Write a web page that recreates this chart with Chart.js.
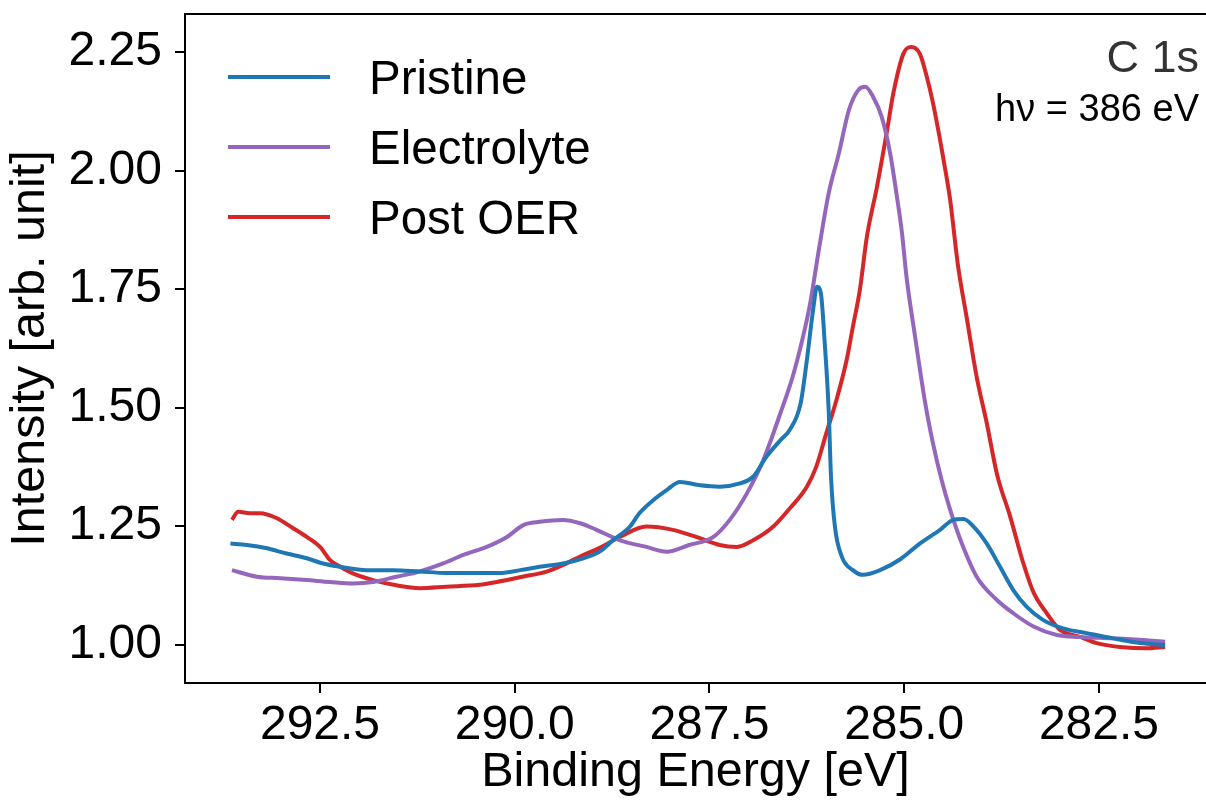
<!DOCTYPE html>
<html><head><meta charset="utf-8">
<script src="https://cdn.jsdelivr.net/npm/chart.js@4.4.1/dist/chart.umd.min.js"></script>
<style>html,body{margin:0;padding:0;background:#fff;overflow:hidden}</style>
</head><body>
<canvas id="c" width="1206" height="807"></canvas>
<script>
// ---- data ----
const seriesNames = ['Pristine', 'Electrolyte', 'Post OER'];

const pristineE = [293.65,293.44,293.18,292.93,292.67,292.46,292.24,291.90,291.56,291.22,290.88,290.53,290.19,289.93,289.68,289.38,289.12,288.91,288.74,288.52,288.40,288.22,288.05,287.88,287.62,287.37,287.11,286.94,286.77,286.59,286.47,286.33,286.25,286.17,286.12,286.07,286.02,285.97,285.94,285.89,285.80,285.66,285.53,285.31,285.05,284.80,284.54,284.37,284.24,284.11,283.94,283.77,283.60,283.43,283.22,282.96,282.66,282.32,281.97,281.65];
const pristineI = [1.213,1.210,1.203,1.192,1.182,1.171,1.164,1.157,1.157,1.154,1.151,1.151,1.151,1.157,1.164,1.171,1.182,1.196,1.220,1.249,1.277,1.305,1.326,1.343,1.336,1.333,1.340,1.354,1.396,1.431,1.453,1.509,1.600,1.706,1.755,1.741,1.635,1.495,1.354,1.249,1.185,1.157,1.147,1.157,1.180,1.213,1.242,1.263,1.265,1.249,1.213,1.164,1.115,1.080,1.052,1.034,1.024,1.013,1.003,0.999];

const electrolyteE = [293.63,293.31,293.01,292.67,292.37,292.07,291.82,291.52,291.22,290.92,290.66,290.36,290.10,289.89,289.68,289.38,289.16,288.95,288.65,288.31,288.05,287.76,287.45,287.24,287.02,286.81,286.59,286.42,286.25,286.20,286.09,285.97,285.84,285.71,285.59,285.50,285.40,285.29,285.18,285.10,285.03,284.97,284.86,284.73,284.63,284.52,284.41,284.26,284.07,283.81,283.60,283.34,283.04,282.74,282.32,281.89,281.65];
const electrolyteI = [1.157,1.143,1.140,1.136,1.132,1.129,1.132,1.143,1.154,1.171,1.189,1.206,1.227,1.252,1.259,1.263,1.256,1.242,1.220,1.206,1.196,1.210,1.227,1.263,1.319,1.389,1.488,1.572,1.685,1.727,1.839,1.952,2.036,2.128,2.170,2.177,2.156,2.114,2.036,1.952,1.870,1.775,1.649,1.509,1.424,1.347,1.284,1.213,1.143,1.094,1.066,1.038,1.020,1.016,1.013,1.009,1.006];

const postOerE = [293.63,293.55,293.40,293.27,293.06,292.85,292.67,292.50,292.37,292.24,292.08,291.82,291.52,291.22,290.88,290.45,290.23,289.90,289.59,289.38,289.12,288.91,288.65,288.31,287.97,287.67,287.37,287.15,286.94,286.68,286.47,286.25,286.13,286.00,285.87,285.74,285.66,285.57,285.48,285.35,285.22,285.14,285.01,284.91,284.80,284.71,284.63,284.54,284.46,284.41,284.31,284.20,284.07,283.94,283.81,283.64,283.47,283.34,283.17,283.00,282.74,282.53,282.23,281.89,281.65];
const postOerI = [1.263,1.280,1.277,1.277,1.267,1.246,1.227,1.206,1.178,1.164,1.150,1.136,1.125,1.119,1.122,1.126,1.132,1.143,1.154,1.168,1.189,1.204,1.227,1.249,1.242,1.227,1.210,1.206,1.220,1.249,1.287,1.333,1.375,1.446,1.516,1.600,1.670,1.748,1.860,1.966,2.085,2.163,2.247,2.261,2.247,2.198,2.142,2.065,1.990,1.938,1.800,1.692,1.565,1.467,1.360,1.270,1.171,1.110,1.066,1.031,1.016,1.003,0.995,0.992,0.995];

const xTickValues = [292.5, 290.0, 287.5, 285.0, 282.5];
const yTickValues = [1.00, 1.25, 1.50, 1.75, 2.00, 2.25];
const xLimits = [281.126, 294.233];
const yLimits = [0.9188, 2.3306];

// ---- styling ----
const FONT = "'Liberation Sans', Arial, Helvetica, sans-serif";
const colors = ['#1f77b4', '#9467bd', '#d62728'];
const toPts = (E, I) => E.map((e, i) => ({x: e, y: I[i]}));

const seriesData = [toPts(pristineE, pristineI), toPts(electrolyteE, electrolyteI), toPts(postOerE, postOerI)];

const datasets = seriesNames.map((name, k) => ({
  label: name,
  data: seriesData[k],
  showLine: true,
  borderColor: colors[k],
  backgroundColor: colors[k],
  borderWidth: 4,
  pointRadius: 0,
  cubicInterpolationMode: 'monotone',
  fill: false
}));

const frame = {
  id: 'frame',
  afterDatasetsDraw(chart) {
    const {ctx, chartArea: a} = chart;
    ctx.save();
    ctx.strokeStyle = '#000';
    ctx.lineWidth = 2;
    ctx.beginPath();
    ctx.moveTo(a.left, a.top); ctx.lineTo(a.right, a.top);
    ctx.stroke();
    // legend
    ctx.font = `47.5px ${FONT}`;
    ctx.textBaseline = 'alphabetic';
    ctx.textAlign = 'left';
    chart.data.datasets.forEach((ds, i) => {
      const y = 77 + i * 70;
      ctx.strokeStyle = ds.borderColor;
      ctx.lineWidth = 4;
      ctx.beginPath(); ctx.moveTo(228, y); ctx.lineTo(330, y); ctx.stroke();
      ctx.fillStyle = '#000';
      ctx.fillText(ds.label, 369, y + 17);
    });
    // annotation
    ctx.textAlign = 'right';
    ctx.fillStyle = '#333';
    ctx.font = `45px ${FONT}`;
    ctx.fillText('C 1s', 1199, 72);
    ctx.fillStyle = '#000';
    ctx.font = `38px ${FONT}`;
    ctx.fillText('h\u03bd = 386 eV', 1199, 121);
    ctx.restore();
  }
};

new Chart(document.getElementById('c'), {
  type: 'scatter',
  data: {datasets},
  options: {
    responsive: false,
    animation: false,
    devicePixelRatio: 1,
    layout: {padding: {top: 14, right: 0, left: 0, bottom: 0}},
    plugins: {legend: {display: false}, tooltip: {enabled: false}},
    scales: {
      x: {
        type: 'linear',
        reverse: true,
        min: xLimits[0], max: xLimits[1],
        afterFit(s) { s.height = 124; s.paddingLeft = 0; s.paddingRight = 0; },
        afterBuildTicks(s) { s.ticks = xTickValues.map(v => ({value: v})); },
        ticks: {
          color: '#000', font: {family: FONT, size: 48}, padding: 4,
          maxRotation: 0, autoSkip: false,
          callback: v => Number(v).toFixed(1)
        },
        grid: {display: true, drawOnChartArea: false, drawTicks: true, tickLength: 10, color: '#000', lineWidth: 2},
        border: {display: true, color: '#000', width: 2},
        title: {display: true, text: 'Binding Energy [eV]', color: '#000', font: {family: FONT, size: 48.5}, padding: {top: 0, bottom: 5}}
      },
      y: {
        type: 'linear',
        min: yLimits[0], max: yLimits[1],
        afterFit(s) { s.width = 185; s.paddingTop = 0; s.paddingBottom = 0; },
        afterBuildTicks(s) { s.ticks = yTickValues.map(v => ({value: v})); },
        ticks: {
          color: '#000', font: {family: FONT, size: 48}, padding: 13,
          callback: v => Number(v).toFixed(2)
        },
        grid: {display: true, drawOnChartArea: false, drawTicks: true, tickLength: 10, color: '#000', lineWidth: 2},
        border: {display: true, color: '#000', width: 2},
        title: {display: true, text: 'Intensity [arb. unit]', color: '#000', font: {family: FONT, size: 48.5}, padding: {top: 2, bottom: 0}}
      }
    }
  },
  plugins: [frame]
});
</script>
</body></html>
